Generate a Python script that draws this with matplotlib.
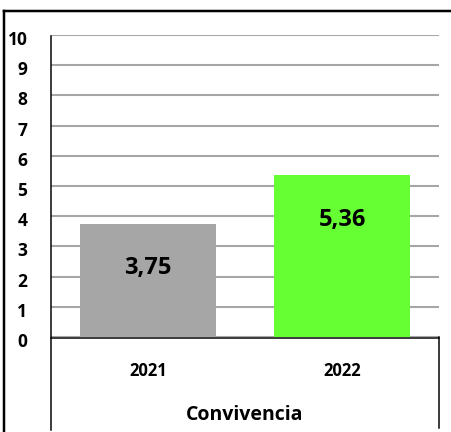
import matplotlib
matplotlib.use("Agg")
import matplotlib.pyplot as plt
import matplotlib.transforms as mtransforms
from matplotlib.lines import Line2D

# data
years = ["2021", "2022"]
scores = [3.75, 5.36]
bar_colors = ["#a6a6a6", "#66ff33"]
group_label = "Convivencia"
yticks = list(range(0, 11))

W, H = 451, 432
fig = plt.figure(figsize=(W / 100, H / 100), dpi=100)
plt.rcParams['font.family'] = ['Open Sans', 'DejaVu Sans']

# axes box in pixels: left 51, right 439, top 35, bottom 337
ax = fig.add_axes([51 / W, 1 - 337 / H, (439 - 51) / W, (337 - 35) / H])

x = list(range(len(years)))
ax.bar(x, scores, width=0.706, color=bar_colors, zorder=3)
ax.set_xlim(-0.5, len(years) - 0.5)
ax.set_ylim(0, 10)

ax.set_yticks(yticks)
ax.set_yticklabels([str(t) for t in yticks], fontsize=12.5, fontweight='bold')
ax.tick_params(axis='y', length=0, pad=17)
# labels sit a little below their gridlines in the original
shift = mtransforms.ScaledTranslation(0, -3 / 100, fig.dpi_scale_trans)
for lbl in ax.get_yticklabels():
    lbl.set_transform(lbl.get_transform() + shift)
ax.set_xticks([])
ax.yaxis.grid(True, color="#a6a6a6", linewidth=1.5, zorder=0)
for s in ax.spines.values():
    s.set_visible(False)

# value labels (about 43 px under the bar top)
for i, v in enumerate(scores):
    ax.annotate(f"{v:.2f}".replace(".", ","), (i, v), xytext=(0, -32),
                textcoords="offset points", ha="center", va="center",
                fontsize=17, fontweight="bold", zorder=4)

# category labels under the axis
tr = ax.get_xaxis_transform()
for i, lab in enumerate(years):
    ax.text(i, -0.1126, lab, transform=tr, ha="center", va="center",
            fontsize=12, fontweight="bold")
ax.text(0.5, -0.258, group_label, transform=ax.transAxes, ha="center",
        va="center", fontsize=14, fontweight="bold")

# axis/table lines in pixel coordinates
def pline(xs, ys, lw=1.5, color="black"):
    fig.add_artist(Line2D([v / W for v in xs], [1 - v / H for v in ys],
                          color=color, linewidth=lw * 0.72,
                          transform=fig.transFigure, zorder=5))

pline([51, 51], [36, 430])      # left axis, running down into the table
pline([51, 439], [337.5, 337.5])  # category axis
pline([439, 439], [337, 428])   # right table edge
# outer frame (left and top)
pline([4, 4], [11, 432], lw=2.5)
pline([4, 451], [11, 11], lw=2.5)

fig.savefig("out.png", dpi=100)
